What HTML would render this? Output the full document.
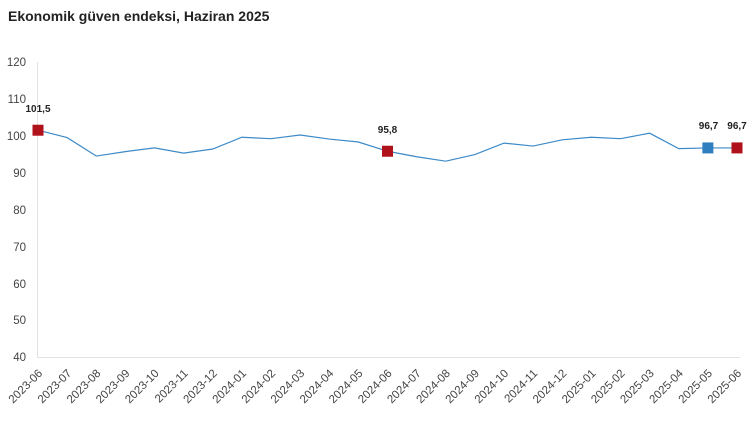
<!DOCTYPE html>
<html><head><meta charset="utf-8"><style>
body{margin:0;background:#fff;width:750px;height:417px;overflow:hidden;font-family:"Liberation Sans",sans-serif}
</style></head><body>
<svg width="750" height="417" xmlns="http://www.w3.org/2000/svg" font-family="Liberation Sans, sans-serif">
<text x="8" y="21" font-size="14" font-weight="bold" fill="#222">Ekonomik güven endeksi, Haziran 2025</text>
<g font-size="11.5" fill="#444" text-anchor="end">
<text x="26" y="66">120</text><text x="26" y="103">110</text><text x="26" y="140">100</text><text x="26" y="177">90</text><text x="26" y="214">80</text><text x="26" y="251">70</text><text x="26" y="288">60</text><text x="26" y="324">50</text><text x="26" y="361">40</text>
</g>
<line x1="37.5" y1="62" x2="37.5" y2="357" stroke="#e3e3e3"/>
<line x1="37" y1="357.5" x2="740" y2="357.5" stroke="#e3e3e3"/>
<g id="xl" font-size="11.5" fill="#444" text-anchor="end"></g>
<polyline id="ln" fill="none" stroke="#3d8ac8" stroke-width="1.2"/>
<g id="mk"></g>
<g font-size="10" font-weight="bold" fill="#222" text-anchor="middle">
<text x="38" y="112">101,5</text><text x="387.5" y="133">95,8</text><text x="708.5" y="129">96,7</text><text x="737" y="129">96,7</text>
</g>
<script>
var v=[101.5,99.5,94.5,95.7,96.7,95.3,96.4,99.6,99.2,100.2,99.1,98.3,95.8,94.3,93.1,94.9,98.0,97.2,98.9,99.6,99.2,100.7,96.5,96.7,96.7];
var pts=[],xl=document.getElementById('xl'),ns="http://www.w3.org/2000/svg";
for(var i=0;i<25;i++){var x=38+i*29.125,y=357-(v[i]-40)*3.6875;pts.push(x+','+y);
var m=(5+i)%12+1,yr=i<7?2023:(i<19?2024:2025);
var t=document.createElementNS(ns,'text');t.setAttribute('transform','translate('+(x+5)+',374) rotate(-45)');t.textContent=yr+'-'+(m<10?'0'+m:m);xl.appendChild(t);}
document.getElementById('ln').setAttribute('points',pts.join(' '));
var mk=document.getElementById('mk');
[[0,'#b0121b'],[12,'#b0121b'],[23,'#2e7fc0'],[24,'#b0121b']].forEach(function(a){var x=38+a[0]*29.125,y=357-(v[a[0]]-40)*3.6875;var r=document.createElementNS(ns,'rect');r.setAttribute('x',x-5.5);r.setAttribute('y',y-5.5);r.setAttribute('width',11);r.setAttribute('height',11);r.setAttribute('fill',a[1]);mk.appendChild(r);});
</script>
</svg>
</body></html>
